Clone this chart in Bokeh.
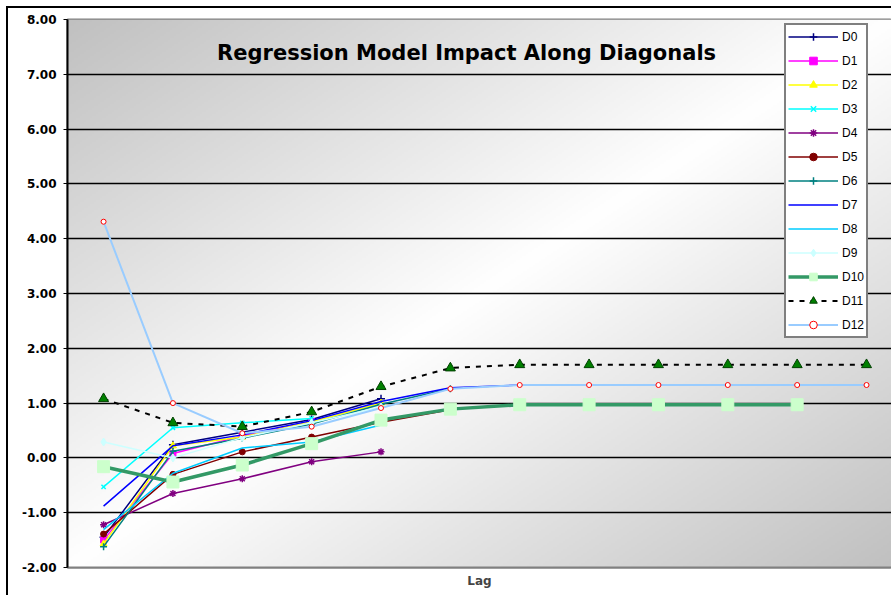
import numpy as np
from bokeh.plotting import figure
from bokeh.models import FixedTicker, Legend, LegendItem, Label, Range1d, NumeralTickFormatter
from bokeh.embed import file_html
from bokeh.resources import INLINE

# ---- data ----
lags = list(range(1, 13))
D0 = [-1.45, 0.24, 0.47, 0.70, 1.08]
D1 = [-1.50, 0.08, 0.40, 0.66]
D2 = [-1.57, 0.22, 0.38, 0.66, 1.00]
D3 = [-0.53, 0.55, 0.64, 0.72]
D4 = [-1.22, -0.65, -0.38, -0.07, 0.11]
D5 = [-1.39, -0.30, 0.11, 0.38, 0.65, 0.88]
D6 = [-1.62, 0.12, 0.36, 0.62, 0.98, 1.26]
D7 = [-0.88, 0.22, 0.42, 0.68, 1.03, 1.28, 1.33]
D8 = [-1.31, -0.28, 0.18, 0.29, 0.60]
D9 = [0.29, 0.00, 0.37, 0.64, 0.93]
D10 = [-0.16, -0.44, -0.13, 0.26, 0.69, 0.89, 0.97, 0.97, 0.97, 0.97, 0.97]
D11 = [1.08, 0.64, 0.57, 0.84, 1.30, 1.64, 1.70, 1.70, 1.70, 1.70, 1.70, 1.70]
D12 = [4.31, 1.00, 0.45, 0.57, 0.91, 1.26, 1.33, 1.33, 1.33, 1.33, 1.33, 1.33]
names = ["D0", "D1", "D2", "D3", "D4", "D5", "D6", "D7", "D8", "D9", "D10", "D11", "D12"]
series = [D0, D1, D2, D3, D4, D5, D6, D7, D8, D9, D10, D11, D12]
y_ticks = [-2, -1, 0, 1, 2, 3, 4, 5, 6, 7, 8]
title_text = "Regression Model Impact Along Diagonals"
x_label = "Lag"

# styles: (line color, line width, dash, marker, marker size, fill, marker line)
styles = [
    ("#000080", 1.5, "solid", "cross", 8, "#000080", "#000080"),
    ("#FF00FF", 1.5, "solid", "square", 6, "#FF00FF", "#FF00FF"),
    ("#FFFF00", 1.5, "solid", "triangle", 7, "#FFFF00", "#FFFF00"),
    ("#00FFFF", 1.5, "solid", "x", 6, "#00FFFF", "#00FFFF"),
    ("#800080", 1.5, "solid", "asterisk", 7, "#800080", "#800080"),
    ("#800000", 1.5, "solid", "circle", 6, "#800000", "#800000"),
    ("#008080", 1.5, "solid", "cross", 7, "#008080", "#008080"),
    ("#0000FF", 1.5, "solid", None, 0, None, None),
    ("#00CCFF", 1.5, "solid", None, 0, None, None),
    ("#CCFFFF", 1.5, "solid", "diamond", 8, "#CCFFFF", "#CCFFFF"),
    ("#339966", 3.5, "solid", "square", 12, "#CCFFCC", "#CCFFCC"),
    ("#000000", 2.0, "5 6", "triangle", 10, "#008000", "#004000"),
    ("#99CCFF", 2.0, "solid", "circle", 5, "#FFFFFF", "#FF0000"),
]

x0, x1 = 0.48, 12.36
p = figure(width=891, height=595, output_backend="svg", toolbar_location=None,
           x_range=Range1d(x0, x1), y_range=Range1d(-2, 8),
           min_border_left=67, min_border_right=0, min_border_top=19, min_border_bottom=28)
p.background_fill_color = "white"
p.border_fill_color = None
p.outline_line_color = "#808080"
p.outline_line_width = 2
p.styles = {
    "background": "linear-gradient(black, black) 6px 6px / 2px 100% no-repeat, "
                  "linear-gradient(black, black) 6px 6px / 100% 2px no-repeat, white"
}

# gradient background of the plot area
H, W = 274, 412
rows = (np.arange(H) + 0.5) / H
cols = (np.arange(W) + 0.5) / W
vtop = 1.0 - rows[:, None]
u = cols[None, :]
t = np.abs(u + vtop - 1.0)
g = np.clip(255 - 63 * t, 0, 255).astype(np.uint8)
img = np.empty((H, W), dtype=np.uint32)
view = img.view(dtype=np.uint8).reshape((H, W, 4))
view[:, :, 0] = g
view[:, :, 1] = g
view[:, :, 2] = g
view[:, :, 3] = 255
bg = p.image_rgba(image=[img], x=x0, y=-2, dw=x1 - x0, dh=10)
bg.level = "image"

# axes
p.yaxis.ticker = FixedTicker(ticks=y_ticks)
p.yaxis.formatter = NumeralTickFormatter(format="0.00")
p.yaxis.major_label_text_font = "DejaVu Sans"
p.yaxis.major_label_text_font_style = "bold"
p.yaxis.major_label_text_font_size = "12px"
p.yaxis.major_label_text_color = "black"
p.yaxis.axis_line_color = "black"
p.yaxis.axis_line_width = 2
p.yaxis.major_tick_in = 0
p.yaxis.major_tick_out = 4
p.yaxis.major_tick_line_color = "black"
p.yaxis.major_tick_line_width = 1
p.yaxis.minor_tick_line_color = None
p.yaxis.major_label_standoff = 7

p.xaxis.ticker = FixedTicker(ticks=[])
p.xaxis.major_label_text_font_size = "0px"
p.xaxis.axis_line_color = "#808080"
p.xaxis.axis_line_width = 2
p.xaxis.minor_tick_line_color = None
p.xaxis.major_tick_line_color = None
p.xaxis.axis_label = x_label
p.xaxis.axis_label_text_font = "DejaVu Sans"
p.xaxis.axis_label_text_font_style = "bold"
p.xaxis.axis_label_text_font_size = "12px"
p.xaxis.axis_label_standoff = 6

p.xgrid.grid_line_color = None
p.ygrid.ticker = FixedTicker(ticks=y_ticks[1:-1])
p.ygrid.grid_line_color = "black"
p.ygrid.grid_line_width = 1.5

items = []
for name, vals, st in zip(names, series, styles):
    col, lw, dash, mk, ms, fill, mline = st
    xs = lags[:len(vals)]
    rs = [p.line(xs, vals, line_color=col, line_width=lw, line_dash=dash)]
    if mk is not None:
        rs.append(p.scatter(xs, vals, marker=mk, size=ms, fill_color=fill,
                            line_color=mline, line_width=1.5 if mk in ("cross", "x", "asterisk") else 1))
    items.append(LegendItem(label=name, renderers=rs))

legend = Legend(items=items, location=(717, 229))
legend.border_line_color = "black"
legend.border_line_width = 2
legend.background_fill_color = "white"
legend.background_fill_alpha = 1
legend.padding = 2
legend.margin = 0
legend.spacing = 5
legend.glyph_height = 19
legend.label_height = 19
legend.glyph_width = 50
legend.label_standoff = 4
legend.label_width = 19
legend.label_text_font = "Liberation Sans"
legend.label_text_font_size = "12px"
legend.label_text_color = "black"
p.add_layout(legend)

title = Label(x=6.234, y=7.39, text=title_text, text_align="center", text_baseline="middle",
              text_font="DejaVu Sans", text_font_style="bold", text_font_size="21px", text_color="black")
p.add_layout(title)

open("out.html", "w").write(file_html(p, INLINE))
